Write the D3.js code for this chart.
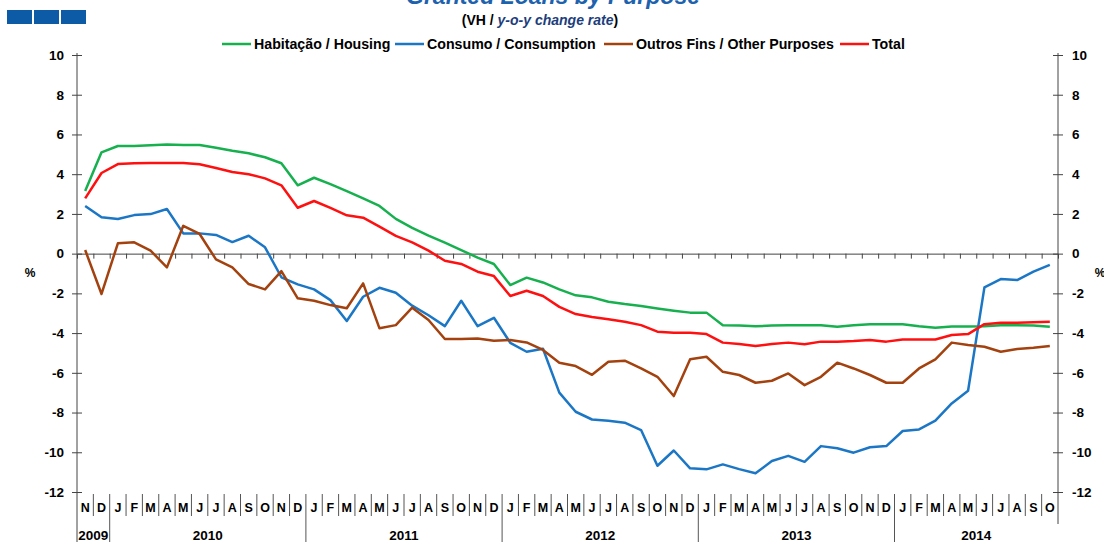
<!DOCTYPE html>
<html><head><meta charset="utf-8">
<script src="https://cdn.jsdelivr.net/npm/d3@7/dist/d3.min.js"></script>
<style>
html,body{margin:0;padding:0;background:#fff;}
svg{display:block;font-family:"Liberation Sans",Arial,sans-serif;}
</style></head><body>
<svg id="chart" width="1104" height="542"></svg>
<script>
const months = ["N","D","J","F","M","A","M","J","J","A","S","O","N","D","J","F","M","A","M","J","J","A","S","O","N","D","J","F","M","A","M","J","J","A","S","O","N","D","J","F","M","A","M","J","J","A","S","O","N","D","J","F","M","A","M","J","J","A","S","O"];
const years = [{label:"2009",start:0,end:2},{label:"2010",start:2,end:14},{label:"2011",start:14,end:26},{label:"2012",start:26,end:38},{label:"2013",start:38,end:50},{label:"2014",start:50,end:60}];
const housing = [3.15,5.1,5.42,5.42,5.46,5.5,5.47,5.47,5.33,5.18,5.05,4.85,4.55,3.44,3.82,3.5,3.15,2.78,2.4,1.75,1.3,0.91,0.55,0.18,-0.2,-0.52,-1.58,-1.21,-1.45,-1.8,-2.1,-2.2,-2.42,-2.54,-2.64,-2.76,-2.87,-2.97,-2.97,-3.6,-3.62,-3.66,-3.62,-3.6,-3.6,-3.6,-3.68,-3.6,-3.55,-3.55,-3.55,-3.65,-3.73,-3.67,-3.67,-3.65,-3.6,-3.6,-3.62,-3.68];
const consumption = [2.4,1.83,1.74,1.94,1.99,2.25,1.02,1.02,0.94,0.58,0.9,0.32,-1.19,-1.55,-1.8,-2.34,-3.39,-2.17,-1.72,-1.97,-2.62,-3.1,-3.65,-2.37,-3.65,-3.23,-4.49,-4.94,-4.79,-7.0,-7.96,-8.35,-8.41,-8.51,-8.88,-10.68,-9.91,-10.81,-10.86,-10.61,-10.85,-11.06,-10.44,-10.18,-10.48,-9.69,-9.8,-10.02,-9.75,-9.69,-8.93,-8.85,-8.41,-7.54,-6.9,-1.7,-1.28,-1.33,-0.91,-0.57];
const otherPurposes = [0.18,-2.03,0.52,0.57,0.15,-0.69,1.4,0.99,-0.29,-0.69,-1.53,-1.8,-0.88,-2.25,-2.37,-2.59,-2.75,-1.5,-3.76,-3.6,-2.72,-3.34,-4.3,-4.3,-4.27,-4.38,-4.35,-4.47,-4.85,-5.49,-5.66,-6.1,-5.44,-5.39,-5.78,-6.2,-7.17,-5.32,-5.19,-5.95,-6.11,-6.5,-6.4,-6.03,-6.62,-6.2,-5.49,-5.78,-6.11,-6.5,-6.5,-5.78,-5.32,-4.48,-4.6,-4.69,-4.94,-4.8,-4.74,-4.65];
const total = [2.78,4.06,4.51,4.55,4.56,4.56,4.56,4.5,4.31,4.11,4.0,3.79,3.44,2.31,2.65,2.3,1.93,1.81,1.36,0.89,0.57,0.15,-0.36,-0.52,-0.91,-1.13,-2.13,-1.87,-2.13,-2.68,-3.04,-3.19,-3.3,-3.43,-3.6,-3.93,-3.98,-3.98,-4.05,-4.48,-4.55,-4.65,-4.55,-4.48,-4.56,-4.43,-4.43,-4.4,-4.35,-4.43,-4.32,-4.32,-4.32,-4.1,-4.05,-3.55,-3.48,-3.48,-3.46,-3.43];
const seriesNames = ["Habitação / Housing","Consumo / Consumption","Outros Fins / Other Purposes","Total"];
const seriesColors = ["#17b04f","#1b77c5","#a3420f","#ff1010"];
const yTicks = [-12,-10,-8,-6,-4,-2,0,2,4,6,8,10];

const seriesData = [housing, consumption, otherPurposes, total];
const svg = d3.select("#chart");
const L = 77, R = 1058, T = 55, B = 492;
const idx = d3.range(months.length);
const x = d3.scaleBand().domain(idx).range([L, R]).padding(0);
const xb = d3.scaleLinear().domain([0, months.length]).range([L, R]);
const y = d3.scaleLinear().domain([-12, 10]).range([B, T]);
const cx = i => x(i) + x.bandwidth() / 2;
const fmt = d => String(d);

// logo
svg.append("g").selectAll("rect").data([0,1,2]).join("rect")
  .attr("x", d => 7 + d * 27).attr("y", 10).attr("width", 25).attr("height", 14).attr("fill", "#0d5aa7");

// title
svg.append("text").attr("x", 553).attr("y", 4).attr("text-anchor", "middle")
  .attr("font-size", 23).attr("font-weight", "bold").attr("font-style", "italic").attr("fill", "#1e62ad")
  .text("Granted Loans by Purpose");
const sub = svg.append("text").attr("x", 540).attr("y", 25).attr("text-anchor", "middle")
  .attr("font-size", 14).attr("font-weight", "bold").attr("fill", "#000");
sub.append("tspan").text("(VH / ");
sub.append("tspan").attr("font-style", "italic").attr("fill", "#1c3d7c").text("y-o-y change rate");
sub.append("tspan").text(")");

// legend
const legendX = [222, 395, 604, 840];
const lg = svg.append("g");
seriesNames.forEach((n, i) => {
  lg.append("line").attr("x1", legendX[i]).attr("x2", legendX[i] + 29).attr("y1", 44).attr("y2", 44)
    .attr("stroke", seriesColors[i]).attr("stroke-width", 2.5);
  lg.append("text").attr("x", legendX[i] + 32).attr("y", 49).attr("font-size", 14.2).attr("font-weight", "bold")
    .text(n);
});

// axes
svg.append("g").attr("transform", `translate(${L},0)`)
  .call(d3.axisLeft(y).tickValues(yTicks).tickSize(5).tickPadding(8).tickFormat(fmt));
svg.append("g").attr("transform", `translate(${L},0)`)
  .call(d3.axisRight(y).tickValues(yTicks).tickSize(5).tickFormat(""));
svg.append("g").attr("transform", `translate(${R},0)`)
  .call(d3.axisRight(y).tickValues(yTicks).tickSize(5).tickPadding(9).tickFormat(fmt));
svg.append("g").attr("transform", `translate(${R},0)`)
  .call(d3.axisLeft(y).tickValues(yTicks).tickSize(5).tickFormat(""));
svg.selectAll(".domain").remove();
svg.selectAll(".tick line").attr("stroke", "#444");
svg.selectAll(".tick text").attr("font-size", 13.5).attr("font-weight", "bold").attr("fill", "#000")
  .style("font-family", "'Liberation Sans', Arial, sans-serif");
svg.append("line").attr("x1", L).attr("x2", L).attr("y1", T - 2).attr("y2", 542).attr("stroke", "#444");
svg.append("line").attr("x1", R).attr("x2", R).attr("y1", T - 2).attr("y2", 524).attr("stroke", "#444");

// % labels
svg.append("text").attr("x", 30).attr("y", 277).attr("text-anchor", "middle").attr("font-size", 12).attr("font-weight", "bold").text("%");
svg.append("text").attr("x", 1100).attr("y", 277).attr("text-anchor", "middle").attr("font-size", 12).attr("font-weight", "bold").text("%");

// zero line with month ticks
const zg = svg.append("g").attr("transform", `translate(0,${y(0)})`)
  .call(d3.axisBottom(xb).tickValues(d3.range(1, months.length)).tickSize(5).tickFormat(""));
zg.select(".domain").attr("stroke", "#444");
zg.selectAll(".tick line").attr("stroke", "#444");

// month labels and separators
const mg = svg.append("g").attr("transform", `translate(0,${B})`)
  .call(d3.axisBottom(x).tickSize(0).tickPadding(11).tickFormat(i => months[i]));
mg.select(".domain").remove();
mg.selectAll(".tick text").attr("font-size", 12.5).attr("font-weight", "bold").attr("fill", "#000")
  .style("font-family", "'Liberation Sans', Arial, sans-serif");
const yearStarts = years.map(d => d.start);
svg.append("g").selectAll("line").data(d3.range(1, months.length)).join("line")
  .attr("x1", d => xb(d)).attr("x2", d => xb(d))
  .attr("y1", B + 2).attr("y2", d => yearStarts.includes(d) ? 542 : B + 24)
  .attr("stroke", "#555").attr("stroke-width", 1);
svg.append("g").selectAll("text").data(years).join("text")
  .attr("x", d => (xb(d.start) + xb(d.end)) / 2).attr("y", 540).attr("text-anchor", "middle")
  .attr("font-size", 13.5).attr("font-weight", "bold").text(d => d.label);

// lines
const line = d3.line().x((d, i) => cx(i)).y(d => y(d));
svg.append("g").selectAll("path").data(seriesData).join("path")
  .attr("d", d => line(d)).attr("fill", "none")
  .attr("stroke", (d, i) => seriesColors[i]).attr("stroke-width", 2.5).attr("stroke-linejoin", "round");
</script>
</body></html>
